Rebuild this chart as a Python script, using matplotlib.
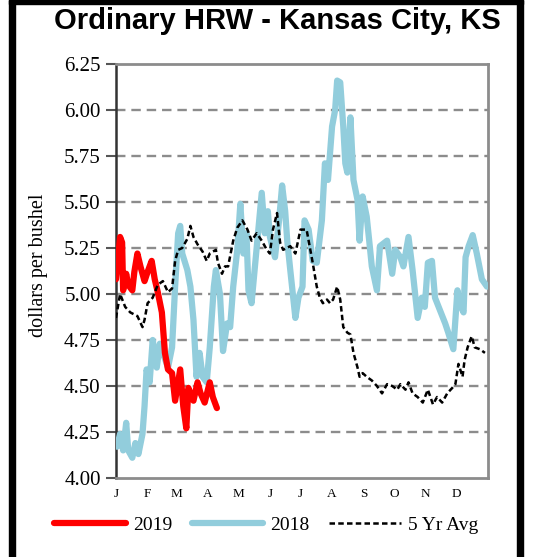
import matplotlib
matplotlib.use("Agg")
import matplotlib.pyplot as plt
from matplotlib.patches import Rectangle

# day-of-year positions and prices ($/bu)
days_2019 = [0, 4, 6, 7, 10, 12, 16, 18, 21, 24, 28, 31, 35, 38, 41, 45, 48, 51,
             55, 58, 63, 66, 69, 71, 76, 80, 83, 87, 92, 95, 99]
price_2019 = [5.08, 5.31, 5.28, 5.02, 5.11, 5.05, 5.02, 5.12, 5.22, 5.15, 5.07, 5.12,
              5.18, 5.08, 5.01, 4.90, 4.68, 4.59, 4.57, 4.42, 4.59, 4.39, 4.27, 4.49,
              4.42, 4.52, 4.46, 4.41, 4.52, 4.44, 4.38]

days_2018 = [1, 4, 7, 10, 12, 16, 19, 22, 26, 28, 30, 33, 36, 40, 43, 46, 51, 55, 58,
             61, 63, 65, 70, 73, 76, 79, 82, 85, 89, 92, 96, 98, 102, 105, 109, 112,
             115, 119, 122, 125, 128, 130, 133, 136, 139, 143, 146, 149, 151, 156, 160,
             163, 166, 168, 171, 176, 179, 183, 185, 189, 193, 197, 202, 205, 208, 212,
             215, 217, 220, 223, 225, 227, 230, 233, 237, 239, 242, 246, 249, 251, 256,
             259, 266, 271, 274, 279, 282, 287, 291, 296, 300, 303, 306, 310, 313, 318,
             323, 326, 331, 335, 337, 341, 343, 346, 350, 354, 359, 364]
price_2018 = [4.17, 4.24, 4.15, 4.30, 4.15, 4.11, 4.19, 4.13, 4.24, 4.39, 4.59, 4.52,
              4.75, 4.60, 4.73, 4.68, 4.60, 4.71, 5.04, 5.33, 5.37, 5.22, 5.13, 5.04,
              4.86, 4.55, 4.68, 4.55, 4.52, 4.71, 5.04, 5.13, 5.00, 4.69, 4.84, 4.82,
              5.04, 5.24, 5.49, 5.22, 5.33, 5.02, 4.95, 5.13, 5.31, 5.55, 5.33, 5.45,
              5.31, 5.20, 5.40, 5.59, 5.45, 5.29, 5.13, 4.87, 4.98, 5.04, 5.40, 5.35,
              5.18, 5.17, 5.40, 5.71, 5.62, 5.91, 6.00, 6.16, 6.15, 5.91, 5.71, 5.66,
              5.96, 5.62, 5.51, 5.29, 5.53, 5.42, 5.26, 5.15, 5.02, 5.26, 5.29, 5.11,
              5.24, 5.20, 5.15, 5.31, 5.13, 4.87, 4.98, 4.93, 5.17, 5.18, 4.98, 4.91,
              4.84, 4.79, 4.70, 5.02, 4.95, 4.90, 5.20, 5.26, 5.32, 5.22, 5.08, 5.04]

days_avg = [0, 4, 9, 14, 21, 26, 28, 31, 36, 41, 46, 51, 55, 58, 61, 65, 70, 73, 76,
            80, 85, 89, 92, 98, 100, 104, 107, 110, 115, 119, 124, 129, 133, 138, 143,
            148, 151, 154, 158, 161, 164, 171, 176, 181, 187, 190, 193, 197, 200, 203,
            207, 210, 213, 217, 220, 223, 227, 230, 233, 237, 239, 242, 246, 251, 256,
            261, 266, 271, 276, 279, 284, 287, 291, 296, 301, 306, 311, 315, 320, 325,
            330, 333, 336, 340, 342, 345, 349, 352, 357, 362]
price_avg = [4.87, 5.00, 4.93, 4.90, 4.88, 4.82, 4.86, 4.95, 4.98, 5.05, 5.07, 5.01,
             5.03, 5.18, 5.24, 5.25, 5.30, 5.37, 5.31, 5.27, 5.23, 5.18, 5.22, 5.24,
             5.17, 5.11, 5.15, 5.15, 5.29, 5.36, 5.40, 5.35, 5.29, 5.33, 5.29, 5.24,
             5.22, 5.35, 5.44, 5.28, 5.24, 5.26, 5.22, 5.35, 5.35, 5.26, 5.17, 5.04,
             4.98, 4.95, 4.97, 4.95, 4.97, 5.04, 4.97, 4.82, 4.79, 4.78, 4.68, 4.60,
             4.55, 4.57, 4.55, 4.53, 4.50, 4.46, 4.51, 4.50, 4.48, 4.51, 4.48, 4.52,
             4.46, 4.44, 4.41, 4.48, 4.40, 4.44, 4.41, 4.46, 4.49, 4.51, 4.62, 4.55,
             4.64, 4.71, 4.77, 4.71, 4.70, 4.68]

month_starts = [0, 31, 59, 90, 120, 151, 181, 212, 243, 273, 304, 334]
month_labels = ["J", "F", "M", "A", "M", "J", "J", "A", "S", "O", "N", "D"]
y_ticks = [4.00, 4.25, 4.50, 4.75, 5.00, 5.25, 5.50, 5.75, 6.00, 6.25]

serif = "Liberation Serif"
fig = plt.figure(figsize=(5.37, 5.57), dpi=100)
ax = fig.add_axes([116 / 537, 1 - 478 / 557, 372 / 537, 414 / 557])

ax.plot(days_2019, price_2019, color="#ff0000", lw=4.5, solid_joinstyle="round",
        solid_capstyle="round", label="2019", zorder=4)
ax.plot(days_2018, price_2018, color="#92cddc", lw=4.5, solid_joinstyle="round",
        solid_capstyle="round", label="2018", zorder=3)
ax.plot(days_avg, price_avg, color="black", lw=1.8, linestyle=(0, (2.2, 1.3)),
        label="5 Yr Avg", zorder=5)

ax.set_xlim(0, 365)
ax.set_ylim(4.0, 6.25)
ax.set_yticks(y_ticks)
ax.set_yticklabels([f"{v:.2f}" for v in y_ticks], fontfamily=serif, fontsize=15)
ax.set_xticks(month_starts)
ax.set_xticklabels(month_labels, fontfamily=serif, fontsize=9.5)
ax.tick_params(axis="x", length=0, pad=7)
ax.tick_params(axis="y", direction="out", length=7, width=1.5, color="#555555", pad=4)

for v in y_ticks[1:-1]:
    ax.axhline(v, color="#8c8c8c", lw=1.7, linestyle=(0, (4, 2.5)), zorder=1)

for side in ["top", "right", "bottom"]:
    ax.spines[side].set_color("#8c8c8c")
    ax.spines[side].set_linewidth(2)
ax.spines["left"].set_color("#333333")
ax.spines["left"].set_linewidth(1.8)

fig.text(38 / 537, 1 - 265 / 557, "dollars per bushel", rotation=90, ha="center",
         va="center", fontfamily=serif, fontsize=14.5)
fig.text(277 / 537, 1 - 21 / 557, "Ordinary HRW - Kansas City, KS", ha="center",
         va="center", fontfamily="Liberation Sans", fontweight="bold", fontsize=21)

fig.legend(loc="center", bbox_to_anchor=(266 / 537, 1 - 525 / 557), ncol=3,
           frameon=False, prop={"family": serif, "size": 14}, handlelength=3.7,
           handletextpad=0.35, columnspacing=1.0)

# black frame around the panel
fig.add_artist(Rectangle((9 / 537, 1 - 4 / 557), 514 / 537, 4 / 557,
                         transform=fig.transFigure, color="black"))
fig.add_artist(Rectangle((9 / 537, 0), 6 / 537, 1, transform=fig.transFigure,
                         color="black"))
fig.add_artist(Rectangle((517 / 537, 0), 6 / 537, 1, transform=fig.transFigure,
                         color="black"))

fig.savefig("out.png", dpi=100)
